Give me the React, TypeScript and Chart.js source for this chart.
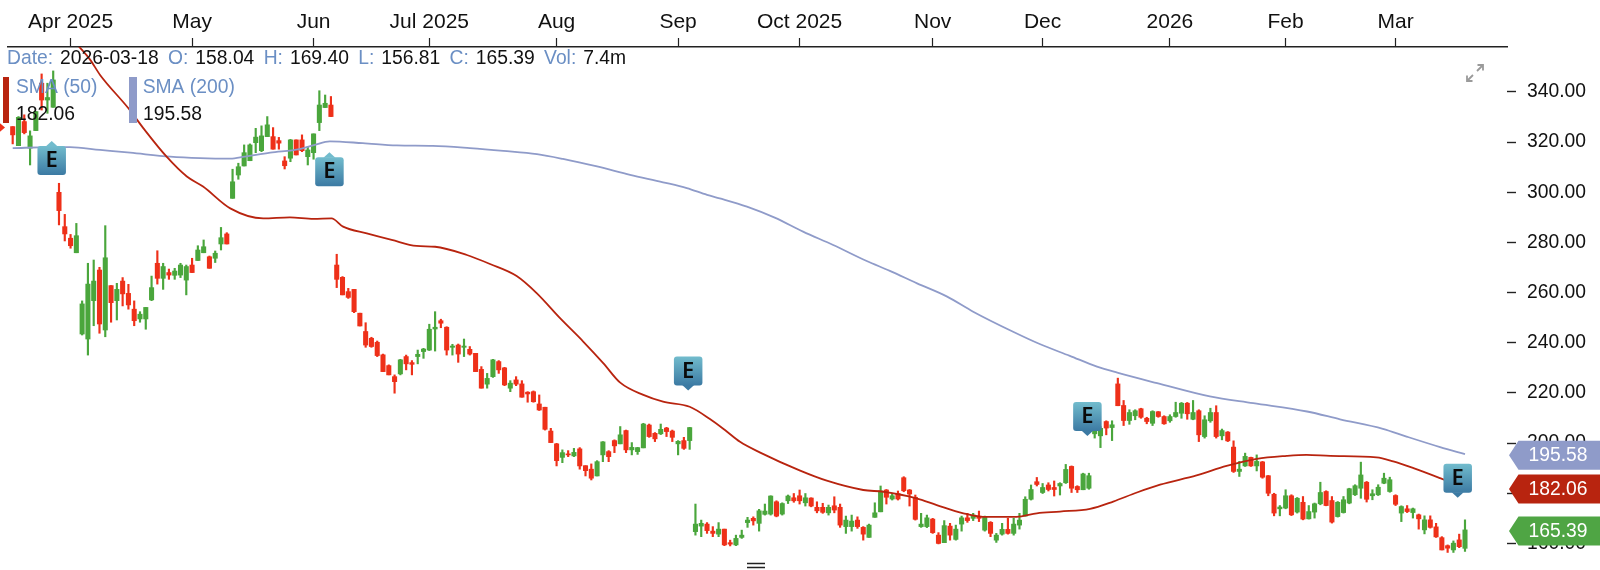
import React, { useEffect, useRef } from "react";
import { Chart, registerables } from "chart.js";

Chart.register(...registerables);

const highs = [
326.2,330.2,330.9,324.5,332.2,347.2,343.5,348.4,303.6,291.2,
283.2,287.6,256.7,271.7,273.0,270.1,286.7,262.8,263.7,266.0,
263.3,256.7,252.4,254.1,266.6,276.7,271.7,269.4,269.7,271.7,
271.0,273.7,278.7,281.0,274.6,276.6,286.0,283.9,309.2,311.6,
318.9,319.3,325.5,326.5,330.2,325.8,321.9,314.2,321.1,320.9,
322.9,318.2,323.3,340.5,338.8,338.2,
275.3,266.4,261.7,261.3,
251.8,248.0,242.2,240.7,235.5,
231.2,227.2,233.4,235.1,232.9,237.1,
237.8,247.4,252.4,249.4,246.4,
239.4,239.5,241.5,238.5,235.8,
230.5,227.8,233.4,232.9,230.2,
224.9,226.5,224.9,220.5,220.8,219.2,
214.3,205.9,199.9,197.3,197.0,
197.9,198.2,191.0,191.7,193.0,
200.6,197.0,201.3,206.6,205.2,200.2,
198.3,207.9,207.6,204.2,207.6,
206.3,205.2,201.0,202.3,206.3,
175.7,169.3,168.3,166.7,168.3,
165.7,161.3,163.3,165.3,170.4,170.6,
173.6,175.7,179.0,177.0,176.2,
179.3,179.9,181.3,179.9,178.2,
176.6,176.0,175.3,178.6,175.7,
170.9,171.3,170.6,166.7,167.7,176.2,
182.9,181.5,179.9,180.9,186.6,
181.5,179.3,172.0,171.3,170.0,
164.3,169.1,168.0,167.3,170.9,172.0,
172.0,172.9,170.9,168.7,164.0,
168.0,170.0,170.0,172.0,178.6,
183.3,186.3,183.9,184.2,184.9,
184.2,191.5,190.9,183.0,188.0,188.0,
206.4,206.6,208.9,208.9,225.9,
217.0,213.3,213.3,213.9,210.3,
212.9,212.6,210.9,211.3,216.3,
216.2,216.2,217.0,213.3,210.9,213.9,
214.9,205.6,204.6,200.9,192.7,
196.0,194.4,195.3,192.7,187.1,
180.0,175.1,181.4,179.4,178.3,178.7,
175.1,176.1,184.4,181.0,178.7,
176.7,178.7,182.0,183.4,192.4,
184.7,181.4,183.4,188.0,186.4,
179.4,175.0,175.1,174.1,171.7,
171.0,171.0,
168.0,162.7,159.4,161.0,
163.7,169.4,
];

const lows = [
319.3,318.6,323.3,310.9,324.6,332.8,331.5,333.9,287.0,280.6,
277.7,275.9,243.1,235.1,246.8,243.8,242.4,248.2,249.1,254.7,
253.4,246.8,248.2,245.4,256.8,263.4,261.3,265.3,265.3,266.0,
259.1,268.0,272.8,275.9,269.7,272.0,277.0,279.4,297.6,305.2,
310.5,312.6,315.8,316.2,322.2,317.2,317.2,309.3,312.2,314.9,
316.2,310.9,313.2,324.6,333.8,330.2,
262.0,259.1,257.7,252.0,
246.7,238.2,238.2,234.5,228.5,
227.2,219.9,227.2,229.2,227.2,231.6,
233.8,236.9,236.7,246.0,235.1,
235.1,232.2,234.5,235.1,228.5,
221.9,221.9,226.2,227.8,222.9,
220.5,222.9,218.3,216.3,216.3,213.0,
205.2,200.2,190.9,192.2,194.6,
194.6,189.6,186.9,185.3,186.9,
192.6,192.6,196.2,199.7,196.2,195.3,
195.5,198.1,202.3,200.6,203.4,
202.6,200.6,195.3,197.5,197.5,
163.3,162.7,164.0,162.7,162.7,
159.1,159.0,159.1,162.0,166.4,167.3,
164.9,171.3,171.3,170.6,171.3,
175.9,176.4,175.7,174.9,174.6,
172.2,172.0,171.3,172.2,166.4,
164.0,164.9,166.0,161.3,162.4,170.4,
172.6,175.7,177.3,177.3,180.6,
174.9,169.3,166.4,166.3,164.0,
159.8,160.3,161.3,161.3,164.9,168.4,
169.1,168.7,164.9,162.7,160.4,
163.3,163.7,163.3,165.7,170.9,
177.3,182.9,179.9,180.9,178.9,
179.3,183.9,180.3,180.3,181.4,181.6,
202.0,198.2,203.3,201.0,214.9,
207.0,207.5,209.3,209.9,207.7,
207.0,210.3,207.5,208.3,210.3,
209.9,209.5,209.3,200.6,202.0,208.3,
202.0,201.3,200.6,188.3,186.7,
190.7,190.7,188.9,186.0,179.0,
171.0,171.0,173.8,171.1,172.1,169.4,
169.7,170.1,175.4,175.0,168.1,
170.5,172.1,175.8,179.1,178.0,
176.5,177.4,179.1,183.8,180.4,
175.1,168.7,172.3,170.1,165.7,
163.8,166.1,
162.4,157.4,156.4,156.4,
158.3,156.81,
];

const opens = [
326.2,318.6,328.2,317.6,324.6,343.5,336.8,333.9,300.0,286.3,
281.7,275.9,243.5,241.5,256.8,269.0,245.1,262.8,256.8,264.6,
259.7,253.4,249.5,249.5,257.1,271.7,265.7,268.0,266.9,267.0,
265.0,271.0,272.8,275.9,274.3,273.7,279.4,283.4,297.6,306.9,
310.5,312.6,319.8,316.6,322.2,322.2,320.6,312.5,313.6,320.9,
320.9,314.2,315.8,327.8,333.8,334.8,
271.0,266.1,260.4,261.3,
251.8,244.5,241.8,240.2,235.2,
230.9,226.5,227.6,234.5,232.1,234.5,
236.5,237.1,245.5,248.8,246.2,
238.2,239.1,238.2,237.4,235.8,
229.4,223.5,226.5,232.5,230.0,
221.9,225.2,223.6,220.3,220.5,215.6,
214.3,204.8,199.7,194.3,195.7,
194.9,197.7,191.0,189.6,186.9,
195.3,196.6,201.0,199.7,205.0,197.3,
196.6,198.1,207.2,203.9,203.7,
206.0,204.8,199.7,201.0,201.0,
164.7,166.9,167.7,164.9,163.7,
165.7,160.3,159.4,162.4,168.3,170.0,
168.0,171.6,171.7,176.6,171.7,
177.0,178.2,179.0,176.2,178.1,
174.4,174.4,172.2,175.0,174.4,
166.7,166.7,169.3,166.4,162.4,170.4,
172.6,181.3,177.7,179.9,186.2,
181.3,178.4,166.7,166.7,169.7,
163.3,160.3,166.9,161.6,167.7,170.2,
170.0,170.9,165.3,168.4,161.3,
163.7,165.6,164.0,167.3,170.9,
177.6,184.6,180.3,183.3,182.3,
182.9,184.2,190.7,182.7,181.4,182.0,
203.7,202.9,208.6,206.2,223.6,
215.0,209.0,210.9,213.7,209.9,
207.9,212.5,210.6,208.9,210.6,
211.9,215.9,209.5,212.9,202.6,208.9,
212.2,202.9,204.4,198.4,188.7,
190.9,194.3,190.9,192.5,187.0,
179.6,173.8,174.1,179.0,172.5,176.4,
169.8,172.5,175.8,180.7,177.1,
170.7,172.3,176.1,179.4,182.0,
184.4,179.0,179.4,184.0,180.7,
179.1,172.1,173.8,172.3,171.4,
165.4,169.4,
166.6,162.3,159.1,157.4,
161.4,158.04,
];

const closes = [
322.9,329.9,323.8,322.5,332.2,336.8,337.8,344.8,292.7,283.4,
278.7,282.7,255.5,263.4,264.6,247.5,273.9,256.0,261.3,259.5,
255.1,248.8,251.4,254.1,262.0,265.7,270.4,267.0,268.6,271.0,
270.4,268.0,277.0,278.3,269.7,275.7,281.9,279.4,304.2,310.2,
315.8,318.9,322.0,322.5,326.9,317.2,319.6,310.6,320.9,314.9,
316.6,316.9,323.3,334.8,335.5,330.2,
265.3,259.1,258.1,252.4,
246.7,239.1,238.5,234.9,228.5,
227.2,224.5,233.2,231.6,231.4,235.4,
237.5,245.4,246.2,247.8,237.1,
238.7,235.5,238.7,235.5,228.5,
221.9,225.8,233.2,229.2,223.2,
223.9,223.5,218.3,219.6,216.5,213.2,
205.5,200.2,193.0,196.2,195.3,
196.3,190.9,189.0,186.0,192.6,
200.5,194.6,198.9,203.3,197.3,198.3,
198.2,207.6,202.6,201.7,205.5,
204.6,202.3,200.7,197.9,206.2,
167.7,168.0,165.1,164.0,165.7,
159.4,159.7,162.0,163.3,169.3,169.0,
173.0,172.9,178.9,170.9,175.9,
178.9,177.0,177.0,178.2,174.9,
173.0,172.4,174.4,173.3,167.3,
169.3,168.9,166.7,163.7,167.3,172.2,
180.9,178.4,179.0,177.7,181.0,
179.7,169.6,167.7,170.2,164.3,
160.0,167.1,163.3,165.7,170.2,169.1,
171.3,170.0,170.6,164.0,163.3,
165.6,164.0,167.7,169.3,177.6,
181.5,183.5,182.3,181.5,181.5,
183.9,189.5,182.0,181.4,187.7,187.0,
205.9,205.9,206.0,207.3,214.9,
209.0,212.2,212.9,210.3,208.6,
212.6,210.6,207.7,210.6,212.2,
215.9,211.7,212.2,203.3,209.3,212.2,
202.6,205.0,200.9,188.7,189.6,
194.7,190.9,192.7,186.4,180.0,
172.1,174.5,179.0,171.4,178.0,169.7,
172.7,175.8,180.3,175.1,168.5,
176.4,177.4,181.8,183.0,187.3,
177.6,179.8,182.4,186.0,185.4,
175.6,174.7,172.7,173.8,169.8,
169.4,166.4,
162.6,157.4,158.1,160.1,
158.7,165.39,
];

const sma50Sessions = [11.2,13.4,15.1,20,22.6,26.6,30.1,32.9,37.6,43.3,47.9,52,55.1,57.1,61.2,65.5,69.8,73,78.5,82.5,87.1,90.6,94.6,98.6,102.1,105,109,112.4,117,120.5,123.1,125.7,129.2,136.1,140.7,147,150.5,156.2,159.7,164.3,167.7,173.5,177,181,186.2,190.2,194.3,198.3,204.6,209.8,215,220.2,223.6,227.7,235.7,238.6,242.1,246.7,251];
const sma50Values = [358.8,352.8,346.8,333.5,325.5,314.2,306.3,302.3,293.6,289.6,290,289.4,289.6,286.3,283.6,281,278.6,278.3,275,271.4,266.6,259.7,249.8,240.5,231.8,224.1,219.2,216.5,214.5,209.6,205.2,200.5,196.2,189,185,181.3,180.6,178,175.3,172,170.6,170.6,172,172.7,173.8,176.7,180.3,183.4,187.1,190.9,193.7,194.9,195.3,194.9,194.3,192.7,190,186,182.06];

const sma200Sessions = [0,6.4,9.9,15.1,20.3,27.2,32.4,37.6,40.1,44.5,49.6,52.2,54.8,60.5,66.4,72.6,79,84.8,90.6,95.1,101,106.7,112.4,116.5,120,122.2,126.9,131.7,136.6,141.8,147.6,151.6,156.3,161.5,166,172.9,177.5,182.7,187.4,190.9,197.8,206.9,214.4,223.7,229.4,236.8,240.9,246.7,251];
const sma200Values = [317.6,318,318,316.9,315.8,314.2,313.6,313.4,314.2,315.8,317.2,318.9,320.3,319.6,318.7,318.5,317.6,316.5,315.2,313.3,310.3,307,304,301.7,299,297.6,294.3,289.9,284.3,279,272.6,268.7,263.7,258.4,252.4,244.4,239.5,234.8,230.5,228.1,223.9,218.6,215.9,212.6,209.5,205.7,202.6,198.4,195.58];

const monthSessions = [10, 31, 52, 72, 94, 115, 136, 159, 178, 200, 220, 239];
const monthLabels = ["Apr 2025", "May", "Jun", "Jul 2025", "Aug", "Sep", "Oct 2025", "Nov", "Dec", "2026", "Feb", "Mar"];
const priceTicks = [340, 320, 300, 280, 260, 240, 220, 200, 180, 160];

const earningsSessions = [7, 55, 117, 186, 250];
const earningsPrices = [320.5, 316, 221, 202.8, 178.2];
const earningsBelow = [true, true, false, false, false];

const headerItems = [
  ["Date:", "2026-03-18"],
  ["O:", "158.04"],
  ["H:", "169.40"],
  ["L:", "156.81"],
  ["C:", "165.39"],
  ["Vol:", "7.4m"],
];
const sma50Last = 182.06;
const sma200Last = 195.58;
const closeLast = 165.39;

const RED = "#ee3019";
const GREEN = "#4aa63c";
const SMA50_COLOR = "#b8240f";
const SMA200_COLOR = "#8f9bc9";
const LABEL_BLUE = "#6b8fc4";
const FONT = "'Liberation Sans', Arial, sans-serif";

const overlay = {
  id: "overlay",
  afterDraw(chart: any) {
    const ctx = chart.ctx as CanvasRenderingContext2D;
    const x = chart.scales.x;
    const y = chart.scales.y;
    ctx.save();

    ctx.fillStyle = RED;
    ctx.beginPath();
    ctx.moveTo(-2, 121.5);
    ctx.lineTo(5, 127.5);
    ctx.lineTo(-2, 133.5);
    ctx.closePath();
    ctx.fill();

    ctx.font = `19.3px ${FONT}`;
    ctx.textBaseline = "middle";
    ctx.textAlign = "left";
    let cx = 7;
    for (const [label, value] of headerItems) {
      ctx.fillStyle = LABEL_BLUE;
      ctx.fillText(label, cx, 58.5);
      cx += ctx.measureText(label).width + 7;
      ctx.fillStyle = "#111";
      ctx.fillText(value, cx, 58.5);
      cx += ctx.measureText(value).width + 9.3;
    }

    ctx.fillStyle = SMA50_COLOR;
    ctx.fillRect(3, 77, 6, 46);
    ctx.fillStyle = SMA200_COLOR;
    ctx.fillRect(129, 77, 8, 46);
    ctx.fillStyle = LABEL_BLUE;
    ctx.fillText("SMA (50)", 16, 88);
    ctx.fillText("SMA (200)", 142.7, 88);
    ctx.fillStyle = "#111";
    ctx.fillText(sma50Last.toFixed(2), 16, 115);
    ctx.fillText(sma200Last.toFixed(2), 143, 115);

    earningsSessions.forEach((s, i) => {
      const px = x.getPixelForValue(s) - 1.5;
      const apex = y.getPixelForValue(earningsPrices[i]);
      const below = earningsBelow[i];
      const w = 28.5, h = 29, tip = 5;
      const top = below ? apex + tip : apex - tip - h;
      const grad = ctx.createLinearGradient(0, top, 0, top + h);
      grad.addColorStop(0, "#72bccd");
      grad.addColorStop(1, "#3c7aa3");
      ctx.fillStyle = grad;
      ctx.beginPath();
      ctx.roundRect(px - w / 2, top, w, h, 3);
      ctx.fill();
      ctx.fillStyle = below ? "#72bccd" : "#3c7aa3";
      ctx.beginPath();
      if (below) {
        ctx.moveTo(px - 6, top + 0.5);
        ctx.lineTo(px, apex);
        ctx.lineTo(px + 6, top + 0.5);
      } else {
        ctx.moveTo(px - 6, top + h - 0.5);
        ctx.lineTo(px, apex);
        ctx.lineTo(px + 6, top + h - 0.5);
      }
      ctx.closePath();
      ctx.fill();
      ctx.fillStyle = "#0a0a0a";
      ctx.font = `600 22px 'Noto Sans', ${FONT}`;
      ctx.textAlign = "center";
      ctx.textBaseline = "middle";
      ctx.fillText("E", px, top + h / 2 + 0.5);
    });

    const tags: [number, string][] = [
      [sma200Last, SMA200_COLOR],
      [sma50Last, SMA50_COLOR],
      [closeLast, "#4fa544"],
    ];
    ctx.font = `19.3px ${FONT}`;
    for (const [value, color] of tags) {
      const c = y.getPixelForValue(value) + 1;
      ctx.fillStyle = color;
      ctx.beginPath();
      ctx.moveTo(1509, c);
      ctx.lineTo(1518.5, c - 14.5);
      ctx.lineTo(1600, c - 14.5);
      ctx.lineTo(1600, c + 14.5);
      ctx.lineTo(1518.5, c + 14.5);
      ctx.closePath();
      ctx.fill();
      ctx.fillStyle = "#fff";
      ctx.textAlign = "left";
      ctx.textBaseline = "middle";
      ctx.fillText(value.toFixed(2), 1528.5, c + 0.5);
    }

    ctx.strokeStyle = "#9a9a9a";
    ctx.lineWidth = 1.8;
    ctx.beginPath();
    ctx.moveTo(1467, 81);
    ctx.lineTo(1473, 75);
    ctx.moveTo(1467, 75.5);
    ctx.lineTo(1467, 81);
    ctx.lineTo(1472.5, 81);
    ctx.moveTo(1477, 71);
    ctx.lineTo(1483, 65);
    ctx.moveTo(1477.5, 65);
    ctx.lineTo(1483, 65);
    ctx.lineTo(1483, 70.5);
    ctx.stroke();

    ctx.strokeStyle = "#222";
    ctx.lineWidth = 1.6;
    ctx.beginPath();
    ctx.moveTo(747, 563.5);
    ctx.lineTo(765, 563.5);
    ctx.moveTo(747, 567.5);
    ctx.lineTo(765, 567.5);
    ctx.stroke();

    ctx.restore();
  },
};

export default function App() {
  const ref = useRef<HTMLCanvasElement>(null);
  useEffect(() => {
    const sessions = closes.map((_, i) => i);
    const candleColors = closes.map((c, i) => (c >= opens[i] ? GREEN : RED));
    const chart = new Chart(ref.current as HTMLCanvasElement, {
      type: "bar",
      data: {
        datasets: [
          {
            type: "line",
            label: "SMA (200)",
            data: sma200Sessions.map((s, i) => ({ x: s, y: sma200Values[i] })),
            borderColor: SMA200_COLOR,
            borderWidth: 1.8,
            pointRadius: 0,
            cubicInterpolationMode: "monotone",
            order: 1,
          },
          {
            type: "line",
            label: "SMA (50)",
            data: sma50Sessions.map((s, i) => ({ x: s, y: sma50Values[i] })),
            borderColor: SMA50_COLOR,
            borderWidth: 1.8,
            pointRadius: 0,
            cubicInterpolationMode: "monotone",
            order: 0,
          },
          {
            type: "bar",
            label: "Body",
            data: sessions.map((s) => ({ x: s, y: [opens[s], closes[s]] })),
            backgroundColor: candleColors,
            barThickness: 4.4,
            grouped: false,
            order: 2,
          },
          {
            type: "bar",
            label: "Range",
            data: sessions.map((s) => ({ x: s, y: [lows[s], highs[s]] })),
            backgroundColor: candleColors,
            barThickness: 1.5,
            grouped: false,
            order: 3,
          },
        ] as any,
      },
      options: {
        responsive: false,
        devicePixelRatio: 1,
        animation: false,
        layout: { padding: { left: 8, right: 0, top: 0, bottom: 0 } },
        plugins: { legend: { display: false }, tooltip: { enabled: false } },
        scales: {
          x: {
            type: "linear",
            position: "top",
            offset: false,
            min: -0.812,
            max: 258.26,
            afterBuildTicks: (scale: any) => {
              scale.ticks = monthSessions.map((value) => ({ value }));
            },
            afterFit: (scale: any) => {
              scale.height = 47;
              scale.paddingLeft = 0;
              scale.paddingRight = 0;
            },
            grid: {
              offset: false,
              drawOnChartArea: false,
              drawTicks: true,
              tickLength: 9,
              color: "#222",
              tickWidth: 1.2,
            },
            border: { display: true, color: "#222", width: 1.6 },
            ticks: {
              autoSkip: false,
              maxRotation: 0,
              minRotation: 0,
              padding: 3,
              color: "#111",
              font: { family: FONT, size: 21 },
              callback: (_v: any, i: number) => monthLabels[i],
            },
          },
          y: {
            type: "linear",
            position: "right",
            min: 149.4,
            max: 357.94,
            afterBuildTicks: (scale: any) => {
              scale.ticks = priceTicks.map((value) => ({ value }));
            },
            afterFit: (scale: any) => {
              scale.width = 93;
              scale.paddingTop = 0;
              scale.paddingBottom = 0;
            },
            grid: {
              drawOnChartArea: false,
              drawTicks: true,
              tickLength: 9,
              color: "#222",
              tickWidth: 1.4,
            },
            border: { display: false },
            ticks: {
              autoSkip: false,
              padding: 11,
              color: "#111",
              font: { family: FONT, size: 19.3 },
              callback: (v: any) => Number(v).toFixed(2),
            },
          },
        },
      } as any,
      plugins: [overlay],
    } as any);
    return () => chart.destroy();
  }, []);
  return (
    <div style={{ position: "fixed", left: 0, top: 0, width: 1600, height: 570, background: "#fff", overflow: "hidden" }}>
      <canvas ref={ref} width={1600} height={570} style={{ display: "block", width: 1600, height: 570 }} />
    </div>
  );
}
